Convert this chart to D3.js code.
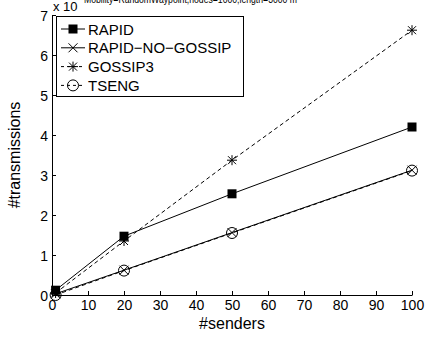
<!DOCTYPE html>
<html>
<head>
<meta charset="utf-8">
<script src="https://cdn.jsdelivr.net/npm/d3@7/dist/d3.min.js"></script>
<style>
  body { margin: 0; background: #fff; }
  text { font-family: "Liberation Sans", Arial, sans-serif; }
</style>
</head>
<body>
<svg width="435" height="339"></svg>
<script>
var senders = [1, 20, 50, 100]
var rapid = [0.12, 1.47, 2.53, 4.2]
var rapidNoGossip = [0.03, 0.62, 1.56, 3.12]
var gossip3 = [0.05, 1.35, 3.37, 6.62]
var tseng = [0.0, 0.61, 1.55, 3.11]
var seriesNames = ["RAPID", "RAPID\u2212NO\u2212GOSSIP", "GOSSIP3", "TSENG"]
var xTicks = [0, 10, 20, 30, 40, 50, 60, 70, 80, 90, 100]
var yTicks = [0, 1, 2, 3, 4, 5, 6, 7]

function main(){
	var margin = {top: 15, right: 23, bottom: 44, left: 52};
	var svg = d3.select("svg")
	var width = svg.attr("width") - margin.left - margin.right;
	var height = svg.attr("height") - margin.top - margin.bottom;

	var canvas = svg.append("g")
	.attr("transform", "translate(" + margin.left + "," + margin.top + ")")

	var xScale = d3.scaleLinear().domain([0, 100]).range([0, width])
	var yScale = d3.scaleLinear().domain([0, 7]).range([height, 0])

	// Axes (ticks point inward, matlab style)
	var xAxis = d3.axisBottom(xScale).tickValues(xTicks).tickFormat(d3.format("d")).tickSizeInner(-4).tickSizeOuter(0).tickPadding(7)
	var yAxis = d3.axisLeft(yScale).tickValues(yTicks).tickFormat(d3.format("d")).tickSizeInner(-4).tickSizeOuter(0).tickPadding(4)

	var gx = canvas.append("g").attr("transform", "translate(0," + height + ")").call(xAxis)
	var gy = canvas.append("g").call(yAxis)
	gx.selectAll("text").attr("font-size", 14).attr("fill", "#000").attr("dy", "0.6em")
	gy.selectAll("text").attr("font-size", 14).attr("fill", "#000").attr("dy", "0.4em")
	canvas.selectAll(".domain, .tick line").attr("stroke", "#000").attr("stroke-width", 1)

	// Axis labels
	svg.append("text").attr("x", margin.left + width / 2).attr("y", 329)
	.attr("text-anchor", "middle").attr("font-size", 16).text("#senders")
	svg.append("text").attr("transform", "translate(20," + (margin.top + height / 2) + ") rotate(-90)")
	.attr("text-anchor", "middle").attr("font-size", 16).text("#transmissions")

	// exponent and (clipped) title
	svg.append("text").attr("x", 53).attr("y", 11).attr("font-size", 13).text("x 10")
	svg.append("text").attr("x", 84).attr("y", 3).attr("font-size", 10)
	.attr("textLength", 213).attr("lengthAdjust", "spacingAndGlyphs")
	.text("Mobility=RandomWaypoint,nodes=1000,length=3000 m")

	var series = [
		{name: seriesNames[0], values: rapid, dash: null, marker: "square"},
		{name: seriesNames[1], values: rapidNoGossip, dash: null, marker: "x"},
		{name: seriesNames[2], values: gossip3, dash: "4,3", marker: "star"},
		{name: seriesNames[3], values: tseng, dash: "4,3", marker: "circle"}
	]

	function drawMarker(g, type, x, y){
		if (type == "square") {
			g.append("rect").attr("x", x - 4.5).attr("y", y - 4.5).attr("width", 9).attr("height", 9).attr("fill", "#000")
		} else if (type == "x") {
			g.append("path").attr("d", "M" + (x-4.5) + "," + (y-4.5) + "L" + (x+4.5) + "," + (y+4.5) + "M" + (x-4.5) + "," + (y+4.5) + "L" + (x+4.5) + "," + (y-4.5))
			.attr("stroke", "#000").attr("stroke-width", 1)
		} else if (type == "star") {
			g.append("path").attr("d", "M" + (x-4) + "," + (y-4) + "L" + (x+4) + "," + (y+4) + "M" + (x-4) + "," + (y+4) + "L" + (x+4) + "," + (y-4)
				+ "M" + (x-5) + "," + y + "L" + (x+5) + "," + y + "M" + x + "," + (y-5) + "L" + x + "," + (y+5))
			.attr("stroke", "#000").attr("stroke-width", 1)
		} else {
			g.append("circle").attr("cx", x).attr("cy", y).attr("r", 5.5).attr("fill", "none").attr("stroke", "#000").attr("stroke-width", 1)
		}
	}

	var line = d3.line().x(function(d, i){ return xScale(senders[i]) }).y(function(d){ return yScale(d) })

	series.forEach(function(s){
		canvas.append("path").datum(s.values).attr("d", line)
		.attr("fill", "none").attr("stroke", "#000").attr("stroke-width", 1)
		.attr("stroke-dasharray", s.dash)
		s.values.forEach(function(v, i){
			drawMarker(canvas, s.marker, xScale(senders[i]), yScale(v))
		})
	})

	// Legend
	var legend = svg.append("g")
	legend.append("rect").attr("x", 56.5).attr("y", 16.5).attr("width", 187).attr("height", 80)
	.attr("fill", "#fff").attr("stroke", "#000").attr("stroke-width", 1)
	series.forEach(function(s, i){
		var ly = 29 + i * 18.8
		legend.append("line").attr("x1", 61).attr("x2", 85).attr("y1", ly).attr("y2", ly)
		.attr("stroke", "#000").attr("stroke-width", 1).attr("stroke-dasharray", s.dash ? "3,3" : null)
		drawMarker(legend, s.marker, 73, ly)
		legend.append("text").attr("x", 88).attr("y", ly + 5.5).attr("font-size", 15).text(s.name)
	})
}

window.onload = function() {
  main()
};
</script>
</body>
</html>
